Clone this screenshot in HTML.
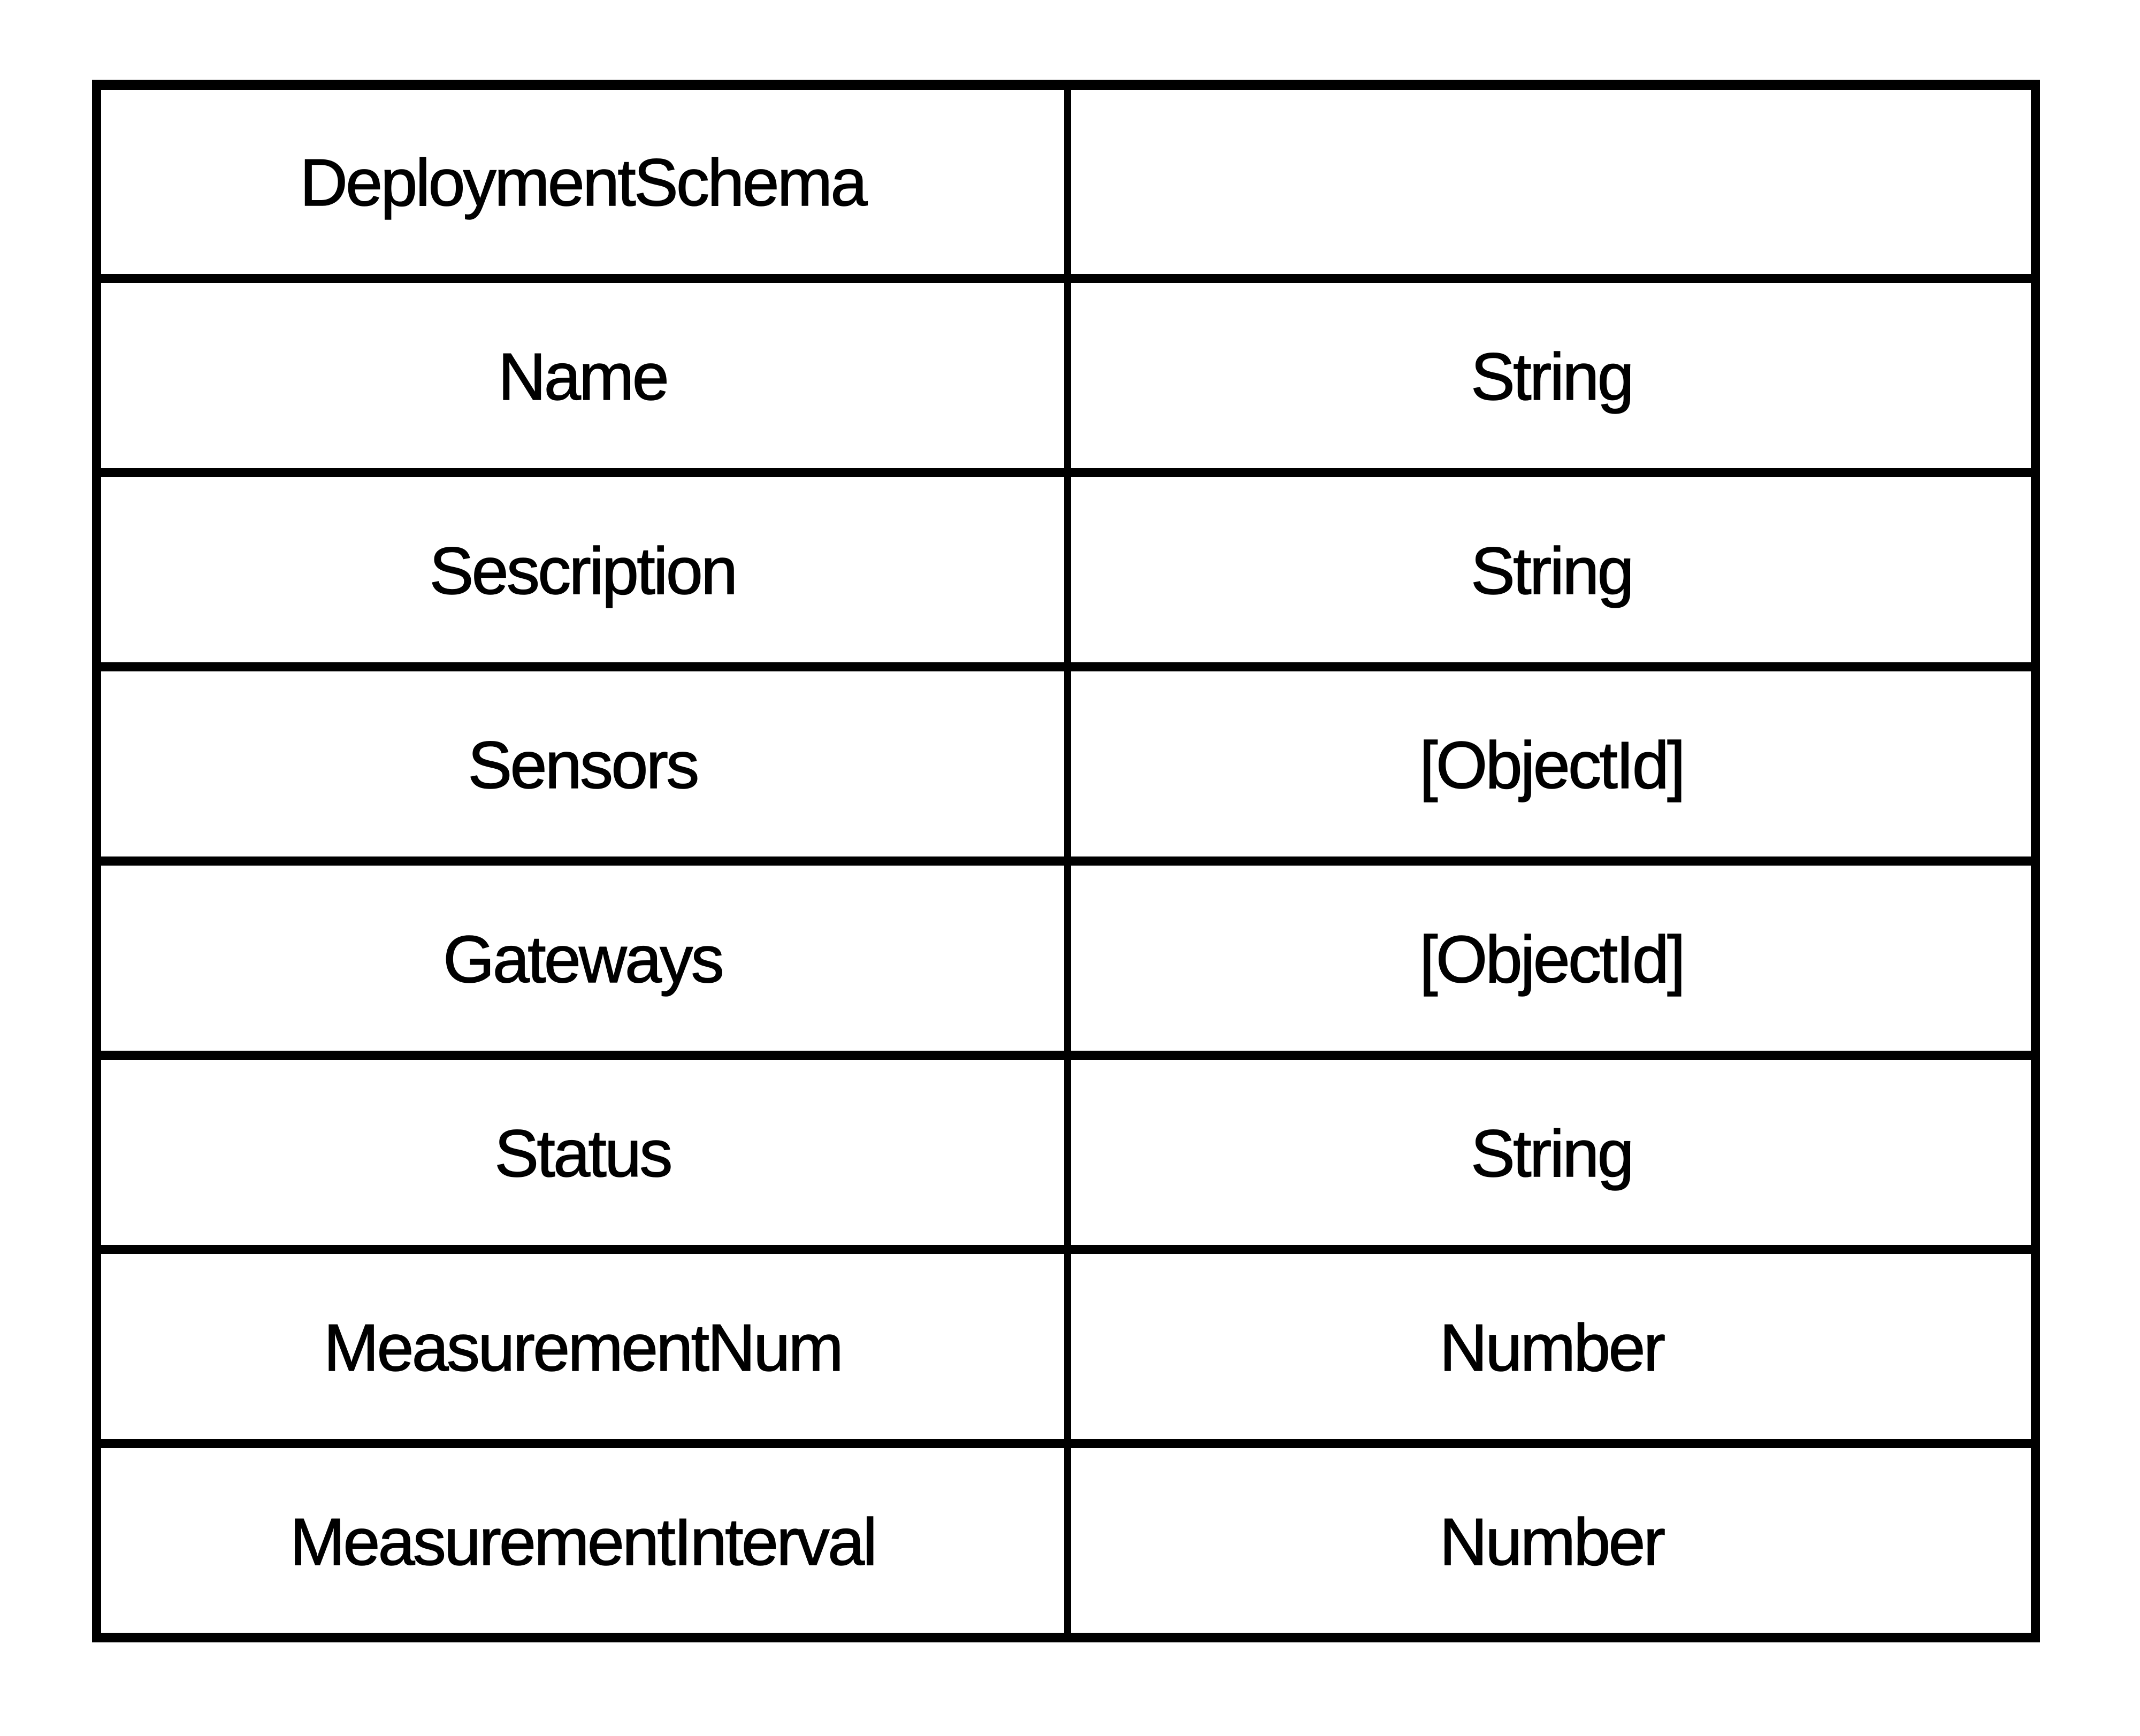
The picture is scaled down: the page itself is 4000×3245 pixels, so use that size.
<!DOCTYPE html>
<html><head><meta charset="utf-8">
<style>
html,body{margin:0;padding:0;background:#fff;}
body{width:4000px;height:3240px;overflow:hidden;}
</style></head>
<body>
<svg width="4000" height="3240" viewBox="0 0 4000 3240" xmlns="http://www.w3.org/2000/svg">
<rect x="0" y="0" width="4000" height="3240" fill="#fff"/>
<g fill="#000">
<rect x="172" y="149" width="3641" height="19"/>
<rect x="172" y="3052" width="3641" height="18"/>
<rect x="172" y="149" width="17" height="2921"/>
<rect x="3796" y="149" width="17" height="2921"/>
<rect x="1989" y="149" width="13" height="2921"/>
<rect x="172" y="512" width="3641" height="17"/>
<rect x="172" y="875" width="3641" height="17"/>
<rect x="172" y="1238" width="3641" height="17"/>
<rect x="172" y="1601" width="3641" height="17"/>
<rect x="172" y="1964" width="3641" height="17"/>
<rect x="172" y="2327" width="3641" height="17"/>
<rect x="172" y="2690" width="3641" height="17"/>
</g>
<g font-family="Liberation Sans, sans-serif" font-size="124" letter-spacing="-3.7" text-anchor="middle" fill="#000" stroke="#000" stroke-width="1.5">
<text x="1089" y="384">DeploymentSchema</text>
<text x="1089" y="747">Name</text>
<text x="2900" y="747">String</text>
<text x="1089" y="1110">Sescription</text>
<text x="2900" y="1110">String</text>
<text x="1089" y="1473">Sensors</text>
<text x="2900" y="1473">[ObjectId]</text>
<text x="1089" y="1836">Gateways</text>
<text x="2900" y="1836">[ObjectId]</text>
<text x="1089" y="2199">Status</text>
<text x="2900" y="2199">String</text>
<text x="1089" y="2562">MeasurementNum</text>
<text x="2900" y="2562">Number</text>
<text x="1089" y="2925">MeasurementInterval</text>
<text x="2900" y="2925">Number</text>
</g>
</svg>
</body></html>
